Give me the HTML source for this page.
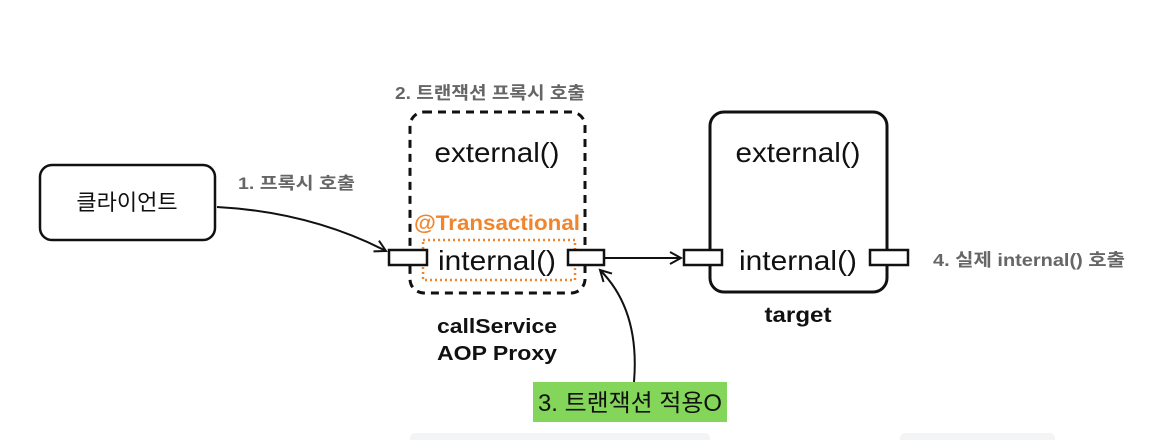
<!DOCTYPE html>
<html><head><meta charset="utf-8"><style>
html,body{margin:0;padding:0;background:#fff;}
svg{display:block;}
text{font-family:"Liberation Sans","Noto Sans CJK KR",sans-serif;}
</style></head><body>
<svg width="1156" height="440" viewBox="0 0 1156 440" xmlns="http://www.w3.org/2000/svg">
<defs>
<marker id="ah" markerWidth="14" markerHeight="14" refX="12" refY="7" orient="auto" markerUnits="userSpaceOnUse">
<path d="M1,1 L12,7 L1,13" fill="none" stroke="#111" stroke-width="2"/>
</marker>
</defs>
<rect x="410" y="433" width="300" height="20" rx="5" fill="#f3f4f6"/>
<rect x="900" y="433" width="155" height="20" rx="5" fill="#f3f4f6"/>

<rect x="40" y="165" width="175" height="75" rx="12" fill="none" stroke="#111" stroke-width="2.5"/>
<text x="127" y="210" font-size="22" text-anchor="middle" fill="#111">클라이언트</text>
<text x="238" y="189" font-size="17" font-weight="bold" fill="#666" textLength="117" lengthAdjust="spacingAndGlyphs">1. 프록시 호출</text>
<path d="M217,207 Q310,212 386,251" fill="none" stroke="#111" stroke-width="2" marker-end="url(#ah)"/>

<text x="395" y="99" font-size="17.5" font-weight="bold" fill="#666" textLength="190" lengthAdjust="spacingAndGlyphs">2. 트랜잭션 프록시 호출</text>
<rect x="410" y="112" width="175" height="181" rx="14" fill="none" stroke="#111" stroke-width="3" stroke-dasharray="8,6"/>
<text x="497" y="162" font-size="28" text-anchor="middle" fill="#111" textLength="125" lengthAdjust="spacingAndGlyphs">external()</text>
<text x="414" y="230" font-size="21" font-weight="bold" fill="#f0852d" textLength="166" lengthAdjust="spacingAndGlyphs">@Transactional</text>
<rect x="423" y="240" width="152" height="40" fill="none" stroke="#f0852d" stroke-width="2.5" stroke-dasharray="2,3"/>
<text x="497" y="270" font-size="28" text-anchor="middle" fill="#111" textLength="118" lengthAdjust="spacingAndGlyphs">internal()</text>
<rect x="389" y="250" width="38" height="15" fill="#fff" stroke="#111" stroke-width="2.5"/>
<rect x="568" y="250" width="36" height="15" fill="#fff" stroke="#111" stroke-width="2.5"/>
<text x="497" y="333" font-size="20" font-weight="bold" text-anchor="middle" fill="#111" textLength="120" lengthAdjust="spacingAndGlyphs">callService</text>
<text x="497" y="360" font-size="20" font-weight="bold" text-anchor="middle" fill="#111" textLength="120" lengthAdjust="spacingAndGlyphs">AOP Proxy</text>

<line x1="604" y1="258" x2="681" y2="258" stroke="#111" stroke-width="2" marker-end="url(#ah)"/>

<rect x="710" y="112" width="177" height="180" rx="14" fill="none" stroke="#111" stroke-width="3"/>
<text x="798" y="162" font-size="28" text-anchor="middle" fill="#111" textLength="125" lengthAdjust="spacingAndGlyphs">external()</text>
<text x="798" y="270" font-size="28" text-anchor="middle" fill="#111" textLength="118" lengthAdjust="spacingAndGlyphs">internal()</text>
<rect x="684" y="250" width="38" height="15" fill="#fff" stroke="#111" stroke-width="2.5"/>
<rect x="870" y="250" width="38" height="15" fill="#fff" stroke="#111" stroke-width="2.5"/>
<text x="798" y="322" font-size="21" font-weight="bold" text-anchor="middle" fill="#111" textLength="67" lengthAdjust="spacingAndGlyphs">target</text>
<text x="933" y="266" font-size="17.5" font-weight="bold" fill="#666" textLength="192" lengthAdjust="spacingAndGlyphs">4. 실제 internal() 호출</text>

<path d="M634,382 Q640,310 600,270" fill="none" stroke="#111" stroke-width="2" marker-end="url(#ah)"/>
<rect x="533" y="382" width="194" height="40" fill="#84d65a"/>
<text x="630" y="411" font-size="24" text-anchor="middle" fill="#111" textLength="184" lengthAdjust="spacingAndGlyphs">3. 트랜잭션 적용O</text>
</svg>
</body></html>
